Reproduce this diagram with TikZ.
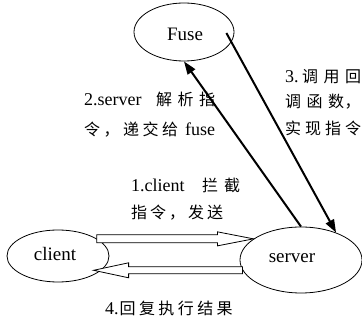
\documentclass[tikz,border=0pt]{standalone}
\usepackage{fontspec}
\setmainfont{Liberation Serif}
\newfontfamily\cjk{Noto Sans CJK SC}
% a row of Chinese characters set at a given pitch (no padding after the last one)
\newcommand\zhend{zhend}
\newcommand\zhstep[1]{\ifx#1\zhend\else\hspace{\zhgap}#1\expandafter\zhstep\fi}
\newcommand\zhrow[2]{{\cjk\fontsize{16}{16}\selectfont
  \edef\zhgap{\the\dimexpr#1-16pt\relax}\hspace{-\zhgap}\zhstep#2\zhend}}
\usetikzlibrary{shapes.geometric,arrows.meta,calc}

\begin{document}
\begin{tikzpicture}[x=1pt,y=-1pt,
  party/.style={ellipse,draw,line width=0.8pt,inner sep=0pt},
  partylabel/.style={font=\fontsize{19}{19}\selectfont,inner sep=0pt},
  note/.style={font=\fontsize{18}{18}\selectfont,inner sep=0pt,anchor=west},
  callarrow/.style={line width=2pt,-{Triangle[length=13pt,width=9pt]}},
  blockarrow/.style={draw,fill=white,line width=0.8pt,line join=miter}]
\useasboundingbox (0,0) rectangle (362,320);

% the three parties
\node[party,minimum width=100pt,minimum height=58pt] (fuse) at (184,32) {};
\node[partylabel] (fusetext) at (185,34) {Fuse};
\node[party,minimum width=102pt,minimum height=52pt] (client) at (58,256) {};
\node[partylabel] (clienttext) at (55,254) {client};
\node[party,minimum width=122pt,minimum height=66pt] (server) at (301,260) {};
\node[partylabel] (servertext) at (292,258) {server};

% server hands the command to fuse, fuse calls back
\draw[callarrow] (server.north) -- (fuse.south);
\coordinate (fusecall) at ($(fuse.east)+(-8,1)$);
\draw[callarrow] (fusecall) -- (server.38.5);

% client -> server request
\draw[blockarrow] let \p1=(client.24), \p2=(server.156) in
  (\x1,\y2+4pt) -- (\x2-36pt,\y2+4pt) -- (\x2-36pt,\y2+7pt) -- (\x2,\y2)
  -- (\x2-36pt,\y2-7pt) -- (\x2-36pt,\y2-4pt) -- (\x1,\y2-4pt) -- cycle;
% server -> client reply
\draw[blockarrow] let \p1=(server.190), \p2=(client.-23) in
  (\x1,\y1+3.5pt) -- (\x2+31pt,\y1+3.5pt) -- (\x2+31pt,\y1+7.5pt) -- (\x2-4pt,\y1)
  -- (\x2+31pt,\y1-7.5pt) -- (\x2+31pt,\y1-3.5pt) -- (\x1,\y1-3.5pt) -- cycle;

% step labels
\node[note] (step2a) at (84,99) {2.server\hspace{14.5pt}\zhrow{21.5pt}{解析指}};
\node[note] (step2b) at (84,130) {\zhrow{19.5pt}{令，递交给}\hspace{7pt}fuse};
\node[note] (step3a) at (285,77) {3.\hspace{3.5pt}\zhrow{21.5pt}{调用回}};
\node[note] (step3b) at (285,102) {\zhrow{21.5pt}{调函数}\hspace{0.5pt}\zhrow{16pt}{，}};
\node[note] (step3c) at (285,128) {\zhrow{20pt}{实现指令}};
\node[note] (step1a) at (131,185) {1.client\hspace{17.5pt}\zhrow{22pt}{拦截}};
\node[note] (step1b) at (131,213) {\zhrow{19pt}{指令，发送}};
\node[note] (step4) at (105,308) {4.\hspace{1pt}\zhrow{19.4pt}{回复执行结果}};
\end{tikzpicture}
\end{document}
